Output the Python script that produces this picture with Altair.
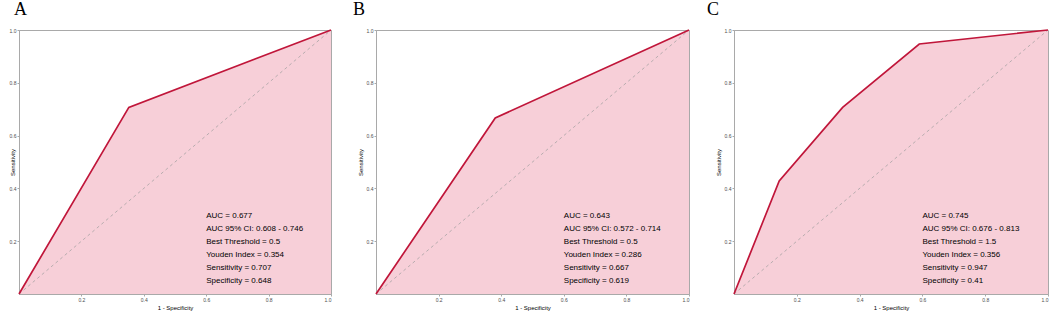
import altair as alt
import pandas as pd

# ---- data ----
panels = ["A", "B", "C"]
fpr_A = [0, 0.352, 1]
tpr_A = [0, 0.707, 1]
fpr_B = [0, 0.381, 1]
tpr_B = [0, 0.667, 1]
fpr_C = [0, 0.144, 0.346, 0.59, 1]
tpr_C = [0, 0.428, 0.707, 0.947, 1]

auc = [0.677, 0.643, 0.745]
ci_low = [0.608, 0.572, 0.676]
ci_high = [0.746, 0.714, 0.813]
threshold = [0.5, 0.5, 1.5]
youden = [0.354, 0.286, 0.356]
sens = [0.707, 0.667, 0.947]
spec = [0.648, 0.619, 0.41]

tick_values = [0.2, 0.4, 0.6, 0.8, 1.0]
diag_vals = [0, 1]

curves = [(fpr_A, tpr_A), (fpr_B, tpr_B), (fpr_C, tpr_C)]

# ---- style ----
PINK = "#F7CFD8"
RED = "#C0163A"
FRAME = "#a9a9a9"
widths = [312, 313, 314]
HEIGHT = 264
title_x = [-4, -12.5, -12.5]
letter_dx = [-5, -23, -27]


def panel(i):
    fx, ty = curves[i]
    df = pd.DataFrame({"fpr": fx, "tpr": ty})
    xs = alt.Scale(domain=[0, 1], nice=False)
    ys = alt.Scale(domain=[0, 1], nice=False)
    xaxis = alt.Axis(values=tick_values, format=".1f", title="1 - Specificity")
    yaxis = alt.Axis(values=tick_values, format=".1f", title="Sensitivity",
                     titleX=title_x[i])

    area = alt.Chart(df).mark_area(color=PINK, opacity=1).encode(
        x=alt.X("fpr:Q", scale=xs, axis=xaxis),
        y=alt.Y("tpr:Q", scale=ys, axis=yaxis),
    )
    diag = alt.Chart(pd.DataFrame({"fpr": diag_vals, "tpr": diag_vals})).mark_line(
        color="#9c9c9c", strokeDash=[3, 3], strokeWidth=0.7
    ).encode(x="fpr:Q", y="tpr:Q")
    line = alt.Chart(df).mark_line(color=RED, strokeWidth=1.7).encode(
        x="fpr:Q", y="tpr:Q"
    )
    lines = [
        f"AUC = {auc[i]}",
        f"AUC 95% CI: {ci_low[i]} - {ci_high[i]}",
        f"Best Threshold = {threshold[i]}",
        f"Youden Index = {youden[i]}",
        f"Sensitivity = {sens[i]}",
        f"Specificity = {spec[i]}",
    ]
    stats = alt.Chart(pd.DataFrame({"d": [0]})).mark_text(
        align="left", baseline="alphabetic", fontSize=8, lineHeight=13,
        font="Liberation Sans", color="black"
    ).encode(x=alt.datum(0.6), y=alt.datum(0.287), text=alt.value(lines))
    letter = alt.Chart(pd.DataFrame({"d": [0]})).mark_text(
        text=panels[i], font="Liberation Serif", fontSize=18, align="left",
        baseline="top", color="black"
    ).encode(x=alt.value(letter_dx[i]), y=alt.value(-29))
    return alt.layer(area, diag, line, stats, letter).properties(
        width=widths[i], height=HEIGHT
    )


chart = alt.hconcat(panel(0), panel(1), panel(2), spacing=45, bounds="flush").properties(
    padding={"left": 8, "top": 0, "right": 0, "bottom": 0},
    background="white",
).configure_view(
    stroke=FRAME, strokeWidth=1
).configure_axis(
    grid=False, domainColor=FRAME, domainWidth=1, tickColor=FRAME, tickSize=2,
    labelFont="Liberation Sans", labelFontSize=5, labelColor="#4d4d4d", labelPadding=1,
    titleFont="Liberation Sans", titleFontSize=6, titleFontWeight="normal",
    titleColor="black", titlePadding=2,
)

chart.save("out.html", embed_options={"renderer": "svg", "actions": False})
